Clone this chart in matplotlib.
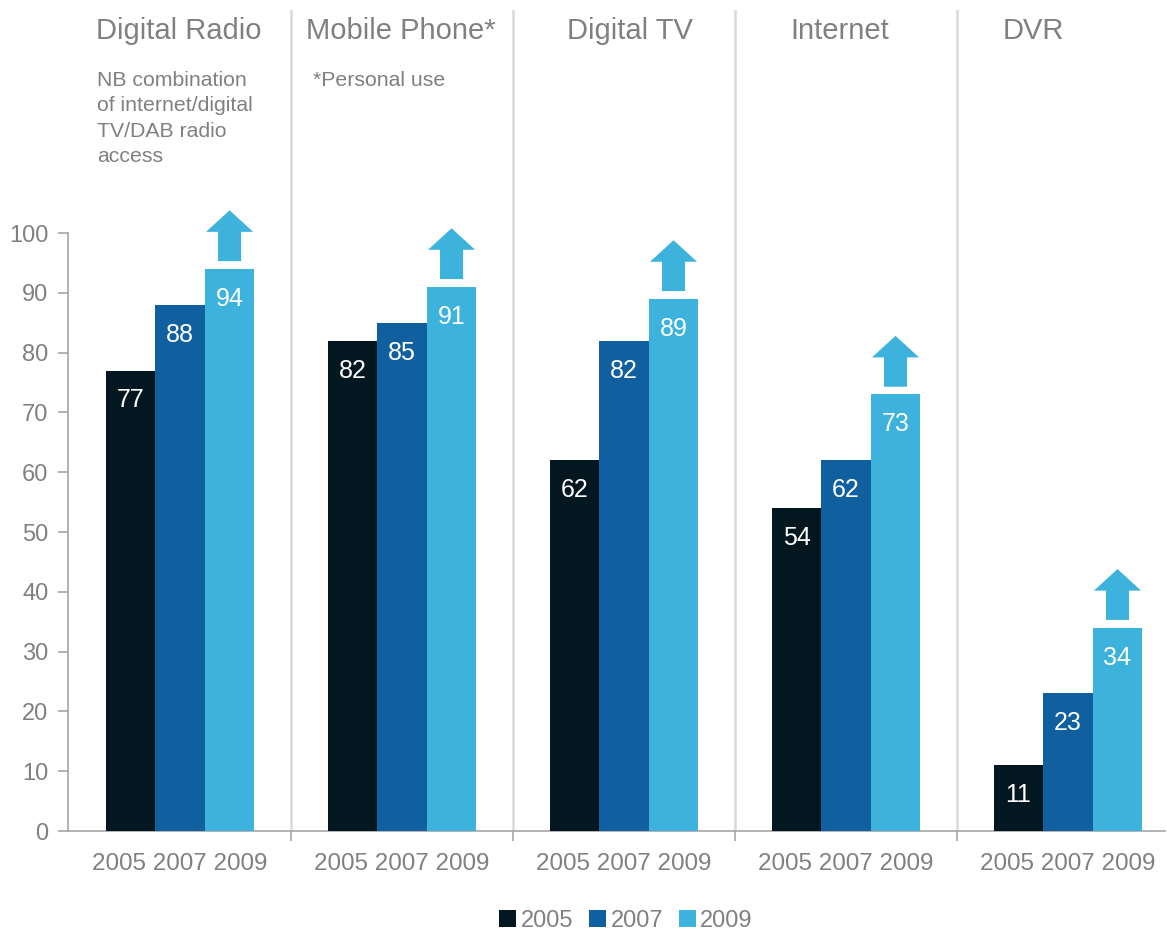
import numpy as np
import matplotlib.pyplot as plt
from matplotlib.patches import Polygon

plt.rcParams['font.family'] = ['Liberation Sans', 'DejaVu Sans']

# data
groups = ['Digital Radio', 'Mobile Phone*', 'Digital TV', 'Internet', 'DVR']
years = ['2005', '2007', '2009']
v2005 = [77, 82, 62, 54, 11]
v2007 = [88, 85, 82, 62, 23]
v2009 = [94, 91, 89, 73, 34]
notes = {0: 'NB combination\nof internet/digital\nTV/DAB radio\naccess', 1: '*Personal use'}

colors = ['#031721', '#1060A0', '#3DB2DC']
gray = '#808080'

fig = plt.figure(figsize=(11.67, 9.31), dpi=100)
ax = fig.add_axes([68 / 1167, 1 - 831 / 931, (1165 - 68) / 1167, 821 / 931])

x = np.arange(len(groups))
w = 0.223
series = [v2005, v2007, v2009]
for k, vals in enumerate(series):
    bars = ax.bar(x + (k - 1) * w, vals, w, color=colors[k], label=years[k], zorder=3)
    for b, v in zip(bars, vals):
        ax.text(b.get_x() + b.get_width() / 2, v - 5, str(v), ha='center', va='center',
                color='white', fontsize=18, zorder=4)

# up arrows above the 2009 bars
for xi, v in zip(x + w, v2009):
    base = v + 1.3
    neck = v + 6.2
    tip = v + 9.8
    sw, hw = 0.052, 0.106
    pts = [(xi - sw, base), (xi + sw, base), (xi + sw, neck), (xi + hw, neck),
           (xi, tip), (xi - hw, neck), (xi - sw, neck)]
    ax.add_patch(Polygon(pts, closed=True, color=colors[2], lw=0, zorder=3))

ax.set_xlim(-0.505, 4.437)
ax.set_ylim(0, 137.3)
ax.set_yticks(range(0, 101, 10))
ax.set_xticks(x)
ax.set_xticklabels([' '.join(years)] * len(groups))
ax.set_xticks(np.arange(0.5, 4, 1), minor=True)

for s in ['top', 'right']:
    ax.spines[s].set_visible(False)
ax.spines['left'].set_bounds(0, 100)
for s in ['left', 'bottom']:
    ax.spines[s].set_color('#A6A6A6')
    ax.spines[s].set_linewidth(1.2)

ax.tick_params(axis='y', colors='#A6A6A6', labelcolor=gray, labelsize=17, length=7, width=1.2, pad=7)
ax.tick_params(axis='x', which='major', length=0, labelcolor=gray, labelsize=17.4, pad=16)
ax.tick_params(axis='x', which='minor', length=7, width=1.2, colors='#A6A6A6')

# group separators
for sx in np.arange(0.5, 4, 1):
    ax.axvline(sx, ymin=0, ymax=1, color='#D9D9D9', lw=1.8, zorder=1)

# group titles
title_x = [-0.005, 0.995, 2.027, 2.973, 3.842]
for tx, g in zip(title_x, groups):
    ax.text(tx, 1 - 21 / 821, g, transform=ax.get_xaxis_transform(), ha='center', va='center',
            color=gray, fontsize=21)

note_x = {0: -0.376, 1: 0.597}
for i, t in notes.items():
    ax.text(note_x[i], 1 - 61 / 821, t, transform=ax.get_xaxis_transform(), ha='left', va='top',
            color=gray, fontsize=15.3, linespacing=1.42)

leg = fig.legend(loc='center', bbox_to_anchor=(626 / 1167, 1 - 921 / 931), ncol=3, frameon=False,
                 fontsize=17, handlelength=0.72, handleheight=0.72, handletextpad=0.2,
                 columnspacing=0.65, borderpad=0)
for t in leg.get_texts():
    t.set_color(gray)

fig.savefig('out.png', dpi=100)
